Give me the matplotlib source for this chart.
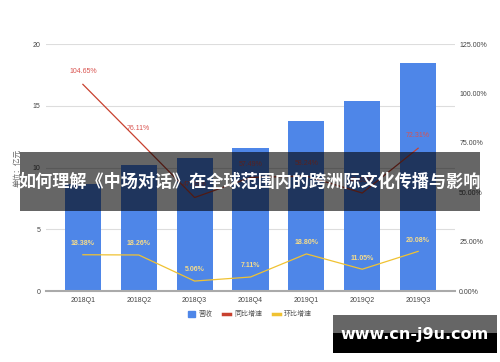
import matplotlib
matplotlib.use('Agg')
import matplotlib.pyplot as plt
from matplotlib.patches import Rectangle
import numpy as np

plt.rcParams['font.family'] = ['Liberation Sans', 'Noto Sans CJK SC']

quarters = ['2018Q1', '2018Q2', '2018Q3', '2018Q4', '2019Q1', '2019Q2', '2019Q3']
revenue = [8.7, 10.2, 10.8, 11.6, 13.8, 15.4, 18.5]
yoy = [104.65, 76.11, 47.35, 57.49, 58.24, 49.63, 72.31]
qoq = [18.38, 18.26, 5.06, 7.11, 18.80, 11.05, 20.08]
left_ticks = [0, 5, 10, 15, 20]
right_ticks = [0, 25, 50, 75, 100, 125]

title = '如何理解《中场对话》在全球范围内的跨洲际文化传播与影响'
watermark = 'www.cn-j9u.com'

blue = '#4e86e8'
red = '#c8412f'
yellow = '#f0c232'

fig = plt.figure(figsize=(5, 3.62), dpi=100)
ax = fig.add_axes([0.092, 0.196, 0.818, 0.682])
x = np.arange(len(quarters))

#####bars (left axis)
ax.bar(x, revenue, width=0.645, color=blue, zorder=2)
ax.set_ylim(0, 20)
ax.set_xlim(-0.66, 6.66)
ax.set_yticks(left_ticks)
ax.set_xticks(x)
ax.set_xticklabels(quarters)
ax.yaxis.grid(True, color='#dddddd', linewidth=0.8, zorder=0)
ax.set_axisbelow(True)
for s in ['top', 'right', 'left']:
    ax.spines[s].set_visible(False)
ax.spines['bottom'].set_color('#aaaaaa')
ax.spines['bottom'].set_linewidth(1.5)
ax.tick_params(length=0, labelsize=5, colors='#444444', pad=4)
ax.set_ylabel('单位：亿元', fontsize=5.5, color='#666666', labelpad=8)

#####lines (right axis)
ax2 = ax.twinx()
ax2.set_ylim(0, 125)
ax2.set_yticks(right_ticks)
ax2.set_yticklabels(['%.2f%%' % t for t in right_ticks])
for s in ax2.spines.values():
    s.set_visible(False)
ax2.tick_params(length=0, labelsize=5, colors='#444444', pad=3)
ax2.plot(x, yoy, color=red, linewidth=0.9, zorder=3)
ax2.plot(x, qoq, color=yellow, linewidth=0.9, zorder=3)
for xi, v in zip(x, yoy):
    ax2.annotate('%.2f%%' % v, (xi, v), xytext=(0, 8), textcoords='offset points',
                 ha='center', fontsize=5, color='#d9534f')
for xi, v in zip(x, qoq):
    ax2.annotate('%.2f%%' % v, (xi, v), xytext=(0, 7), textcoords='offset points',
                 ha='center', fontsize=5, color='#f6dc8a', fontweight='bold')

#####legend
handles = [Rectangle((0, 0), 1, 1, color=blue),
           plt.Line2D([], [], color=red, linewidth=2.5),
           plt.Line2D([], [], color=yellow, linewidth=2.5)]
fig.legend(handles, ['营收', '同比增速', '环比增速'], loc='center', bbox_to_anchor=(0.5, 0.13),
           ncol=3, frameon=False, fontsize=5, handlelength=1.0, handleheight=0.8,
           columnspacing=1.5, handletextpad=0.6, labelcolor='#555555')

#####title banner overlay
fig.patches.append(Rectangle((0.04, 1 - 211 / 362), 0.92, 59 / 362, transform=fig.transFigure,
                             facecolor='black', alpha=0.6, zorder=10))
fig.text(0.5, 1 - 182 / 362, title, ha='center', va='center', fontsize=12.3,
         color='white', fontweight='bold', family=['Noto Sans CJK SC'], zorder=11)

#####watermark
fig.patches.append(Rectangle((333 / 500, 1 - 333 / 362), 164 / 500, 18 / 362, transform=fig.transFigure,
                             facecolor='#666666', zorder=10))
fig.patches.append(Rectangle((333 / 500, 1 - 353 / 362), 164 / 500, 20 / 362, transform=fig.transFigure,
                             facecolor='black', zorder=10))
fig.text(415 / 500, 1 - 335 / 362, watermark, ha='center', va='center', fontsize=11.5,
         color='white', fontweight='bold', family=['DejaVu Sans'], zorder=11)

fig.savefig('out.png', dpi=100)
